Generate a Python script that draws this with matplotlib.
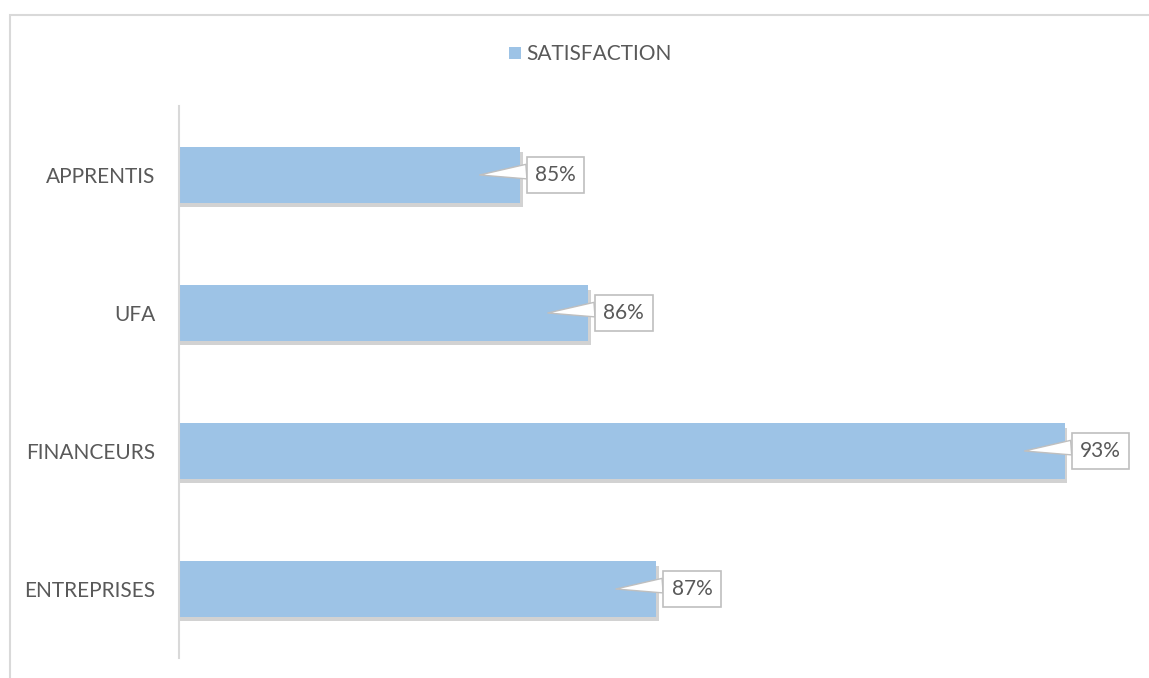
import matplotlib
matplotlib.use("Agg")
import matplotlib.pyplot as plt
import matplotlib.patheffects as pe
from matplotlib.patches import Rectangle, Patch

# data (top to bottom in the picture)
categories = ["APPRENTIS", "UFA", "FINANCEURS", "ENTREPRISES"]
satisfaction = [0.85, 0.86, 0.93, 0.87]
labels = ["85%", "86%", "93%", "87%"]
series_name = "SATISFACTION"

bar_color = "#9DC3E6"
text_color = "#595959"
line_color = "#D9D9D9"

plt.rcParams['font.family'] = ['Lato', 'DejaVu Sans']

fig = plt.figure(figsize=(11.49, 6.78), dpi=100)
ax = fig.add_axes([0.1561, 0.0295, 0.8298, 0.8142])

ypos = list(range(len(categories)))[::-1]
bars = ax.barh(ypos, satisfaction, height=0.4, color=bar_color, left=0)
for b in bars:
    b.set_path_effects([pe.SimplePatchShadow(offset=(2, -3), shadow_rgbFace="#808080", alpha=0.35),
                        pe.Normal()])

ax.set_xlim(0.80, 0.94)
ax.set_ylim(-0.5, 3.5)
ax.set_yticks(ypos)
ax.set_yticklabels(categories, fontsize=15, color=text_color)
ax.tick_params(axis='y', length=0, pad=17)
ax.set_xticks([])
for s in ["top", "right", "bottom"]:
    ax.spines[s].set_visible(False)
ax.spines["left"].set_color(line_color)
ax.spines["left"].set_linewidth(1.5)

# callout labels
for y, v, lab in zip(ypos, satisfaction, labels):
    ax.annotate(lab, xy=(v - 0.0059, y), xytext=(76, 0), textcoords="offset pixels",
                ha="center", va="center", fontsize=15, color=text_color,
                bbox=dict(boxstyle="square,pad=0.4", fc="white", ec="#BFBFBF", lw=1.2),
                arrowprops=dict(arrowstyle="wedge,tail_width=0.7,shrink_factor=0.5",
                                fc="white", ec="#BFBFBF", lw=1.0, relpos=(0, 0.7),
                                shrinkA=0, shrinkB=0))

handle = Patch(facecolor=bar_color, edgecolor="none")
fig.legend([handle], [series_name], loc="center", bbox_to_anchor=(0.514, 0.920),
           frameon=False, fontsize=15, labelcolor=text_color,
           handlelength=0.55, handleheight=0.55, handletextpad=0.3)

# chart area border (cut off at right and bottom)
fig.add_artist(Rectangle((10 / 1149, -0.5), 2, 0.978 + 0.5, transform=fig.transFigure,
                         fill=False, ec=line_color, lw=1.5))

fig.savefig("out.png", dpi=100, facecolor="white")
